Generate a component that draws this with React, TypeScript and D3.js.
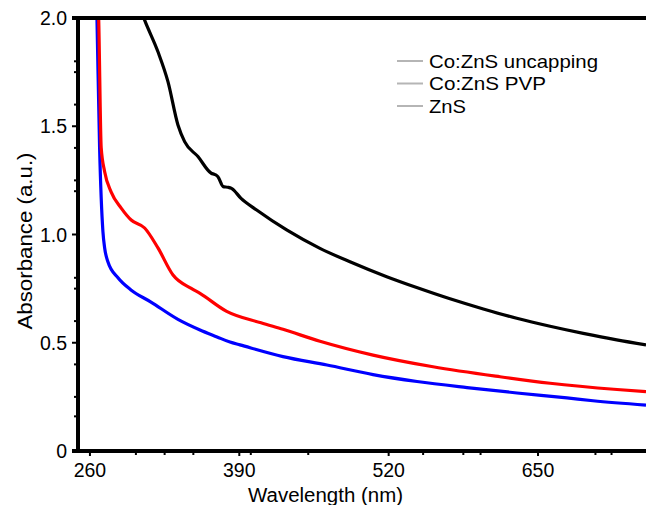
import React from "react";
import * as d3 from "d3";

const W = 646;
const H = 505;

const seriesNames = ["Co:ZnS uncapping", "Co:ZnS PVP", "ZnS"];
const seriesColors = ["#000000", "#ff0000", "#0000ff"];
const legendWidths = [169, 117, 37];

const uncappingData: [number, number][] = [
  [300, 2.1], [307.6, 1.99], [319.2, 1.844], [327.9, 1.706], [336.6, 1.506],
  [342.4, 1.429], [354, 1.36], [365.6, 1.283], [368.8, 1.277], [371.4, 1.267],
  [376, 1.221], [380, 1.218], [383.2, 1.213], [391.5, 1.167], [405.1, 1.113],
  [431.2, 1.021], [460.2, 0.936], [486.3, 0.874], [518.3, 0.805], [544.4, 0.755],
  [573.4, 0.703], [602.4, 0.656], [631.5, 0.613], [660.5, 0.576], [689.4, 0.543],
  [718.5, 0.513], [744, 0.49],
];

const pvpData: [number, number][] = [
  [265.5, 2.3], [267.6, 2.0], [269.8, 1.4], [272.8, 1.29], [278.5, 1.196],
  [287.2, 1.122], [295.9, 1.067], [307.6, 1.03], [319.2, 0.938], [332.3, 0.813],
  [348.2, 0.751], [355.8, 0.728], [379, 0.645], [408.9, 0.592], [428, 0.562],
  [460.2, 0.507], [506.4, 0.443], [558.6, 0.389], [616.9, 0.343], [660.5, 0.313],
  [718.8, 0.284], [744, 0.274],
];

const znsData: [number, number][] = [
  [264.8, 2.3], [266.1, 2.0], [268.4, 1.4], [271.3, 1.013], [272.8, 0.938],
  [275.7, 0.873], [284.4, 0.8], [295.7, 0.744], [313.1, 0.688], [336.6, 0.608],
  [355.8, 0.559], [370.6, 0.527], [381.9, 0.503], [390.6, 0.49], [428, 0.436],
  [466.3, 0.397], [506.4, 0.353], [544.7, 0.321], [588.2, 0.293], [631.7, 0.268],
  [675.2, 0.245], [697.9, 0.232], [744, 0.212],
];

const xMajorTicks = [260, 390, 520, 650];
const xMinorTicks = [300, 325, 350, 400, 450, 550, 585, 600, 700, 714];
const yMajorTicks = [0, 0.5, 1.0, 1.5, 2.0];
const yTickLabels = ["0", "0.5", "1.0", "1.5", "2.0"];
const yMinorTicks = [1.8, 1.75, 1.6, 1.4, 1.25, 1.2, 0.8, 0.75, 0.6, 0.4, 0.25, 0.16];

const xTitle = "Wavelength (nm)";
const yTitle = "Absorbance (a.u.)";

const FONT = "'Liberation Sans', Arial, Helvetica, sans-serif";

export default function App() {
  const left = 78;
  const top = 18;
  const bottom = 451;
  const x = d3.scaleLinear().domain([249.6, 744]).range([left, W]);
  const y = d3.scaleLinear().domain([0, 2]).range([bottom, top]);

  const line = d3
    .line<[number, number]>()
    .x((d) => x(d[0]))
    .y((d) => y(d[1]))
    .curve(d3.curveMonotoneX);

  const series = [uncappingData, pvpData, znsData];

  return (
    <div style={{ position: "fixed", left: 0, top: 0 }}>
      <svg width={W} height={H} style={{ display: "block", background: "#fff" }}>
        <defs>
          <clipPath id="plotClip">
            <rect x={left} y={top} width={W - left} height={bottom - top} />
          </clipPath>
        </defs>

        {/* curves */}
        <g clipPath="url(#plotClip)">
          {[2, 1, 0].map((i) => (
            <path
              key={i}
              d={line(series[i]) || ""}
              fill="none"
              stroke={seriesColors[i]}
              strokeWidth={3.2}
              strokeLinejoin="round"
            />
          ))}
        </g>

        {/* frame */}
        <line x1={left - 6} x2={W} y1={y(2)} y2={y(2)} stroke="#000" strokeWidth={4} />
        <line x1={left} x2={left} y1={top - 2} y2={bottom + 2} stroke="#000" strokeWidth={4} />
        <line x1={left - 6} x2={W} y1={bottom} y2={bottom} stroke="#000" strokeWidth={4} />

        {/* y ticks */}
        {yMajorTicks.map((v, i) => (
          <g key={"ym" + v}>
            <line x1={left - 6} x2={left} y1={y(v)} y2={y(v)} stroke="#000" strokeWidth={2} />
            <text
              x={67}
              y={y(v)}
              dy="0.36em"
              textAnchor="end"
              fontFamily={FONT}
              fontSize={19.5}
              fill="#000"
            >
              {yTickLabels[i]}
            </text>
          </g>
        ))}
        {yMinorTicks.map((v) => (
          <line key={"yn" + v} x1={left - 4} x2={left} y1={y(v)} y2={y(v)} stroke="#000" strokeWidth={2} />
        ))}

        {/* x ticks */}
        {xMajorTicks.map((v) => (
          <g key={"xm" + v}>
            <line x1={x(v)} x2={x(v)} y1={bottom} y2={bottom + 5} stroke="#000" strokeWidth={2} />
            <text
              x={x(v)}
              y={477}
              textAnchor="middle"
              fontFamily={FONT}
              fontSize={19.5}
              fill="#000"
            >
              {v}
            </text>
          </g>
        ))}
        {xMinorTicks.map((v) => (
          <line key={"xn" + v} x1={x(v)} x2={x(v)} y1={bottom} y2={bottom + 4} stroke="#000" strokeWidth={2} />
        ))}

        {/* axis titles */}
        <text
          x={325.5}
          y={502}
          textAnchor="middle"
          fontFamily={FONT}
          fontSize={19.5}
          textLength={155}
          lengthAdjust="spacingAndGlyphs"
          fill="#000"
        >
          {xTitle}
        </text>
        <text
          transform="translate(32,241) rotate(-90)"
          textAnchor="middle"
          fontFamily={FONT}
          fontSize={19.5}
          textLength={177}
          lengthAdjust="spacingAndGlyphs"
          fill="#000"
        >
          {yTitle}
        </text>

        {/* legend */}
        {seriesNames.map((name, i) => {
          const ly = 61 + i * 22.5;
          return (
            <g key={name}>
              <line x1={397} x2={423} y1={ly} y2={ly} stroke="#b5b5b5" strokeWidth={2} />
              <text
                x={429}
                y={ly}
                dy="0.36em"
                fontFamily={FONT}
                fontSize={18.5}
                textLength={legendWidths[i]}
                lengthAdjust="spacingAndGlyphs"
                fill="#000"
              >
                {name}
              </text>
            </g>
          );
        })}
      </svg>
    </div>
  );
}
